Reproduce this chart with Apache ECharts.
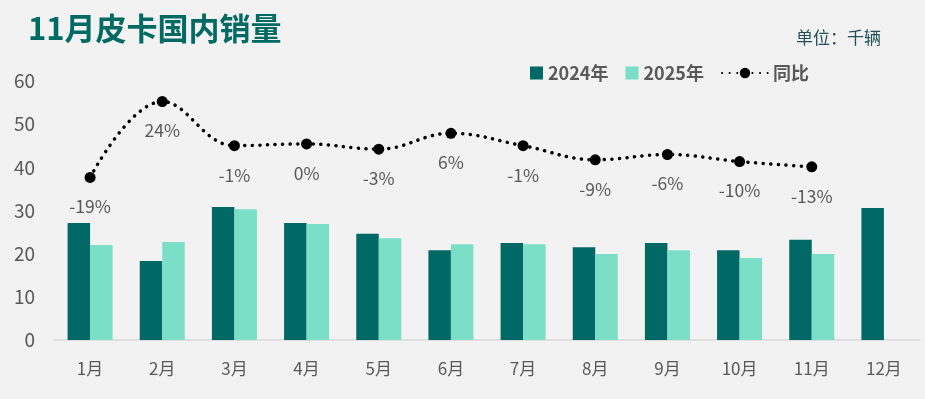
<!DOCTYPE html>
<html>
<head>
<meta charset="utf-8">
<script src="https://cdn.jsdelivr.net/npm/echarts@6/dist/echarts.min.js"></script>
<style>
  html, body { margin: 0; padding: 0; background: #F2F2F2; }
  #main { width: 925px; height: 399px; }
</style>
</head>
<body>
<div id="main"></div>
<script>
// 月份
const months = ['1月', '2月', '3月', '4月', '5月', '6月', '7月', '8月', '9月', '10月', '11月', '12月'];
// 销量，千辆
const sales2024 = [27.1, 18.3, 30.8, 27.1, 24.6, 20.8, 22.5, 21.5, 22.5, 20.8, 23.2, 30.6];
const sales2025 = [22.0, 22.7, 30.3, 26.9, 23.6, 22.2, 22.2, 19.9, 20.8, 19.0, 19.9, null];
// 同比 %
const yoy = [-19, 24, -1, 0, -3, 6, -1, -9, -6, -10, -13];
const yTicks = [0, 10, 20, 30, 40, 50, 60];

const FONT = '"Noto Sans CJK SC", "Noto Sans", sans-serif';
const myChart = echarts.init(document.getElementById('main'));

let option = {
  backgroundColor: '#F2F2F2',
  textStyle: { fontFamily: FONT },
  title: [
    {
      text: '11月皮卡国内销量',
      left: 23, top: 8,
      textStyle: { fontSize: 31, fontWeight: 'bold', color: '#006A63', fontFamily: FONT }
    },
    {
      text: '单位：千辆',
      left: 791, top: 24,
      textStyle: { fontSize: 17, fontWeight: 'normal', color: '#24505C', fontFamily: FONT }
    }
  ],
  legend: [
    {
      data: ['2024年', '2025年'],
      left: 525, top: 59,
      itemWidth: 13, itemHeight: 13, itemGap: 17,
      icon: 'rect',
      textStyle: { fontSize: 18, fontWeight: 'bold', color: '#595959', fontFamily: FONT }
    },
    {
      data: ['同比'],
      left: 716, top: 59,
      itemWidth: 46, itemHeight: 13,
      textStyle: { fontSize: 18, fontWeight: 'bold', color: '#595959', fontFamily: FONT }
    }
  ],
  grid: { left: 54, right: 5, top: 81, bottom: 59 },
  xAxis: {
    type: 'category',
    data: months,
    axisLine: { lineStyle: { color: '#D9D9D9', width: 1.5 } },
    axisTick: { show: false },
    axisLabel: { color: '#595959', fontSize: 17, margin: 20, fontFamily: FONT }
  },
  yAxis: [
    {
      type: 'value',
      min: yTicks[0], max: yTicks[yTicks.length - 1], interval: 10,
      splitLine: { show: false },
      axisLine: { show: false },
      axisTick: { show: false },
      axisLabel: { color: '#595959', fontSize: 19, margin: 19, fontFamily: FONT }
    },
    {
      type: 'value',
      min: -111, max: 35.6,
      show: false,
      splitLine: { show: false }
    }
  ],
  series: [
    {
      name: '2024年',
      type: 'bar',
      data: sales2024,
      barWidth: 22.5,
      barGap: '0%',
      itemStyle: { color: '#006865' }
    },
    {
      name: '2025年',
      type: 'bar',
      data: sales2025,
      barWidth: 22.5,
      itemStyle: { color: '#7BDFC8' }
    },
    {
      name: '同比',
      type: 'line',
      yAxisIndex: 1,
      data: yoy,
      smooth: 0.4,
      symbol: 'circle',
      symbolSize: 11,
      itemStyle: { color: '#000' },
      lineStyle: { color: '#000', width: 3.5, type: [0.1, 7.5], cap: 'round' },
      label: {
        show: true,
        position: 'bottom',
        distance: 15,
        formatter: '{c}%',
        color: '#595959',
        fontSize: 17.5,
        fontFamily: FONT
      },
      z: 5
    }
  ]
};

myChart.setOption(option);
</script>
</body>
</html>
